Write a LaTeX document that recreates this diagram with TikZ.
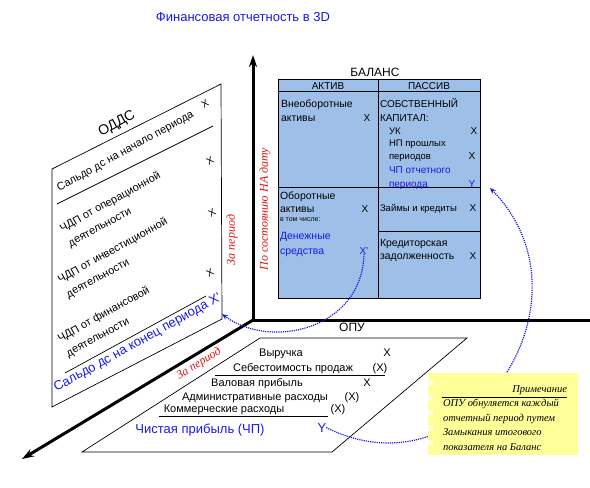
\documentclass[tikz,border=0pt]{standalone}
\usepackage{fontspec}
\setmainfont{Liberation Sans}
\newfontfamily\seriffont{Liberation Serif}
\usetikzlibrary{arrows.meta}
\definecolor{balfill}{RGB}{158,192,232}
\definecolor{mblue}{RGB}{25,25,225}
\definecolor{mred}{RGB}{230,20,20}
\definecolor{notefill}{RGB}{255,255,153}
\definecolor{notelight}{RGB}{255,255,215}
\newcommand{\fs}[1]{\fontsize{#1}{#1}\selectfont}
\begin{document}
\begin{tikzpicture}[x=1pt,y=-1pt,
  every node/.style={inner sep=0pt,outer sep=0pt},
  txt/.style={anchor=base west,font=\fs{10}},
  ctxt/.style={anchor=base,font=\fs{10}},
  opu/.style={anchor=base,font=\fs{11}},
  rowtxt/.style={anchor=west,rotate=29,align=left,font=\fontsize{11}{17}\selectfont},
  xmark/.style={rotate=30,font=\fs{10}},
  redlbl/.style={text=mred,font=\seriffont\itshape\fs{12}},
  axis/.style={line width=3pt,black},
  thin/.style={line width=0.7pt,black},
  flow/.style={mblue,densely dotted,line width=1.2pt,-{Stealth[length=6pt,width=5pt]}}
]
\useasboundingbox (0,0) rectangle (590,488);

% title
\node[text=mblue,font=\fs{13}] (title) at (243,17) {Финансовая отчетность в 3D};

% axes
\coordinate (O) at (253,320);
\coordinate (Otop) at (253,55);
\coordinate (Oright) at (590,320);
\coordinate (Odl) at (22,459);
\draw[axis,-{Stealth[length=12pt,width=8pt]}] (O) -- (Otop);
\draw[axis] (O) -- (Oright);
\draw[axis,-{Stealth[length=12pt,width=8pt]}] (O) -- (Odl);

% ===== BALANCE =====
\node[font=\fs{12},anchor=base] (balt) at (375,76) {БАЛАНС};
\filldraw[fill=balfill,draw=black,line width=0.8pt] (278,79) rectangle (480,298);
\draw[thin] (278,91) -- (480,91);
\draw[thin] (378,79) -- (378,298);
\draw[thin] (278,187) -- (480,187);
\draw[thin] (378,231) -- (480,231);
\node[ctxt] (aktiv) at (328,89) {АКТИВ};
\node[ctxt] (passiv) at (429,89) {ПАССИВ};

\node[txt,font=\fs{10.5}] (vna1) at (281,107) {Внеоборотные};
\node[txt,font=\fs{10.5}] (vna2) at (281,121) {активы};
\node[ctxt] (vnax) at (367,121) {X};

\node[txt] (sk1) at (380,107) {СОБСТВЕННЫЙ};
\node[txt] (sk2) at (380,121) {КАПИТАЛ:};
\node[txt,font=\fs{9.5}] (uk) at (389,134) {УК};
\node[ctxt] (ukx) at (474,134) {X};
\node[txt,font=\fs{9.5}] (np1) at (389,146) {НП прошлых};
\node[txt,font=\fs{9.5}] (np2) at (389,159) {периодов};
\node[ctxt] (npx) at (472,159) {X};
\node[txt,text=mblue] (chp1) at (389,173) {ЧП отчетного};
\node[txt,text=mblue] (chp2) at (389,187) {периода};
\node[ctxt,text=mblue] (yb) at (472,187) {Y};

\node[txt,font=\fs{10.5}] (oa1) at (280,199) {Оборотные};
\node[txt,font=\fs{10.5}] (oa2) at (280,212) {активы};
\node[ctxt] (oax) at (365,212) {X};
\node[txt,font=\fs{7}] (vtch) at (280,221) {в том числе:};
\node[txt,text=mblue,font=\fs{10.5}] (ds1) at (280,239) {Денежные};
\node[txt,text=mblue,font=\fs{10.5}] (ds2) at (280,254) {средства};
\node[ctxt,text=mblue] (xb) at (364,254) {X'};

\node[txt,font=\fs{9.5}] (zk) at (380,211) {Займы и кредиты};
\node[ctxt] (zkx) at (473,211) {X};
\node[txt,font=\fs{10.5}] (kz1) at (380,246) {Кредиторская};
\node[txt,font=\fs{10.5}] (kz2) at (380,259) {задолженность};
\node[ctxt] (kzx) at (473,259) {X};

% ===== ОДДС =====
\draw[thin] (52,169) -- (221,84) -- (222,319) -- (52,407) -- cycle;
\node[rotate=29,font=\fs{14}] (oddst) at (117,124) {ОДДС};
\draw[thin] (57,204) -- (213,126);
\draw[thin] (65,373) -- (206,296);
\node[rowtxt] (r1) at (58,189) {Сальдо дс на начало периода};
\node[rowtxt] (r2) at (65,237) {ЧДП от операционной\\деятельности};
\node[rowtxt] (r3) at (63,288) {ЧДП от инвестиционной\\деятельности};
\node[rowtxt] (r4) at (63,347) {ЧДП от финансовой\\деятельности};
\node[xmark] (r1x) at (205,104) {X};
\node[xmark] (r2x) at (210,161) {X};
\node[xmark] (r3x) at (212,213) {X};
\node[xmark] (r4x) at (210,273) {X};
\node[anchor=west,rotate=29,text=mblue,font=\fs{13}] (r5) at (55,389) {Сальдо дс на конец периода X'};
\coordinate (xo) at (222,314);

% red labels
\node[redlbl,rotate=90] (zp1) at (232,240) {За период};
\node[redlbl,rotate=90] (pst) at (265,209) {По состоянию НА дату};
\node[redlbl,rotate=32] (zp2) at (199,364) {За период};

% ===== ОПУ =====
\node[font=\fs{12},anchor=base] (opul) at (352,331) {ОПУ};
\draw[thin] (260,338) -- (467,338) -- (332,452) -- (82,452) -- cycle;
\node[opu] (o1) at (281,356) {Выручка};
\node[opu] (o1x) at (387,356) {X};
\node[opu] (o2) at (293,371) {Себестоимость продаж};
\node[opu] (o2x) at (380,371) {(X)};
\draw[thin] (215,375) -- (385,375);
\node[opu] (o3) at (257,386) {Валовая прибыль};
\node[opu] (o3x) at (367,386) {X};
\node[opu] (o4) at (255,400) {Административные расходы};
\node[opu] (o4x) at (352,400) {(X)};
\node[opu] (o5) at (224,412) {Коммерческие расходы};
\node[opu] (o5x) at (338,412) {(X)};
\draw[thin] (159,416) -- (328,416);
\node[anchor=base,text=mblue,font=\fs{13}] (o6) at (200,433) {Чистая прибыль (ЧП)};
\node[anchor=base,text=mblue,font=\fs{13}] (yo) at (322,432) {Y};

% ===== flows =====
\coordinate (ybend) at (490,188);
\draw[flow] (xb.south) .. controls (362,330) and (270,350) .. (xo);
\draw[flow] (yo.east) .. controls (470,500) and (600,300) .. (ybend);

% ===== NOTE =====
\fill[notefill] (428,373) rectangle (578,455);
\foreach \yy in {380,395,410,425,440} {
  \fill[notelight] (428,\yy) rectangle (433,\yy+6);
}
\node[anchor=base east,font=\seriffont\itshape\fs{10.5}] (prim) at (567,392) {Примечание};
\draw[thin] (442,397) -- (567,397);
\node[anchor=north west,align=left,font=\seriffont\itshape\fontsize{10.5}{14.5}\selectfont] (notetxt) at (443,399)
  {ОПУ обнуляется каждый\\отчетный период путем\\Замыкания итогового\\показателя на Баланс};
\end{tikzpicture}
\end{document}
